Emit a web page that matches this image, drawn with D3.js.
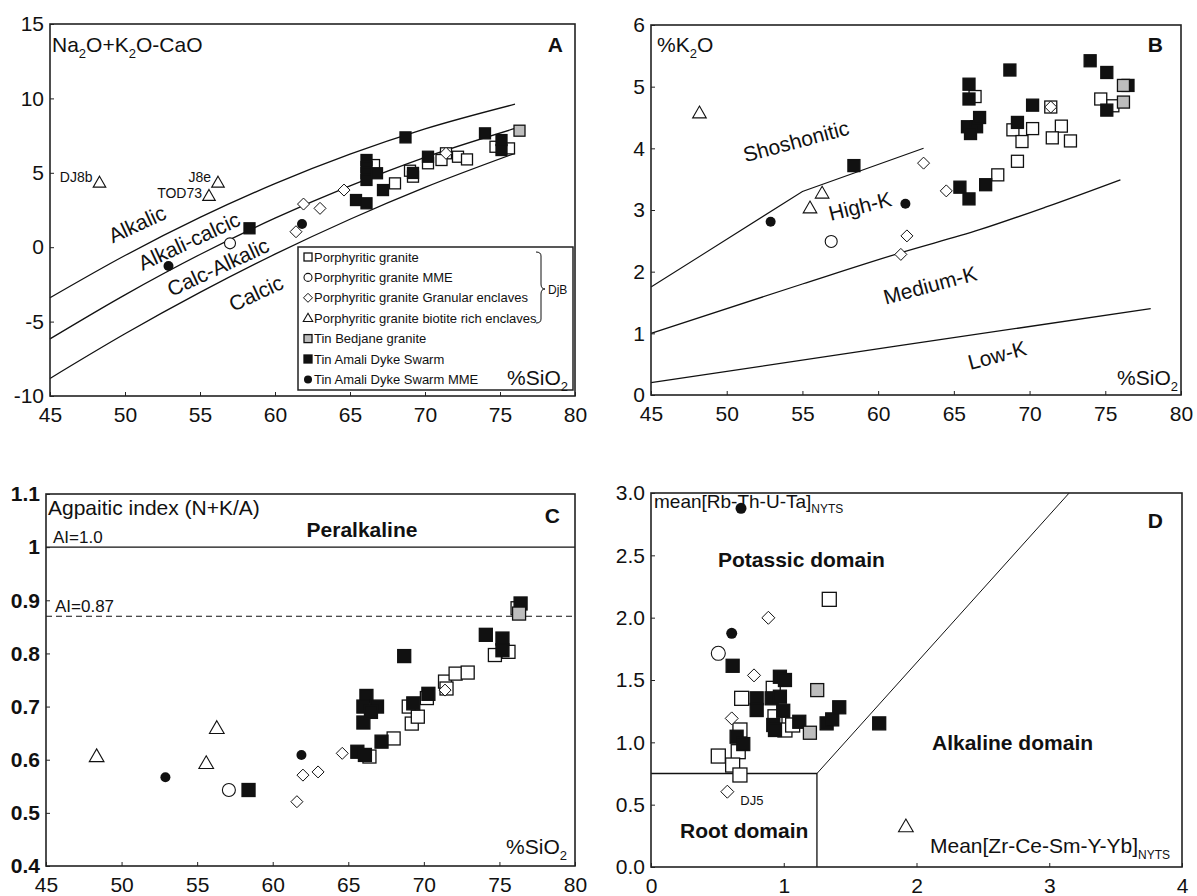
<!DOCTYPE html>
<html><head><meta charset="utf-8">
<script src="https://cdn.jsdelivr.net/npm/d3@7"></script>
<style>
body{margin:0;background:#fff}
text{font-family:"Liberation Sans",Arial,Helvetica,sans-serif;fill:#111}
</style>
</head><body>
<svg id="c" width="1197" height="896"></svg>
<script>
// ---------- DATA ----------
const sio2Ticks = [45,50,55,60,65,70,75,80];
const aYTicks = [-10,-5,0,5,10,15];
const bYTicks = [0,1,2,3,4,5,6];
const cYTicks = [0.4,0.5,0.6,0.7,0.8,0.9,1.0,1.1];
const dXTicks = [0,1,2,3,4];
const dYTicks = [0,0.5,1.0,1.5,2.0,2.5,3.0];

const legendLabels = ["Porphyritic granite","Porphyritic granite MME","Porphyritic granite Granular enclaves",
  "Porphyritic granite biotite rich enclaves","Tin Bedjane granite","Tin Amali Dyke Swarm","Tin Amali Dyke Swarm MME"];

// Panel A  (SiO2, Na2O+K2O-CaO)
const A_pg   = [[66.6,5.52],[68.0,4.29],[69.0,5.14],[69.2,4.74],[70.2,5.64],[71.4,6.31],[71.1,5.86],[72.2,6.08],[72.8,5.9],[74.7,6.75],[75.6,6.64]];
const A_mme  = [[57.0,0.26]];
const A_gran = [[61.4,1.04],[61.9,2.9],[63.0,2.61],[64.6,3.84],[71.4,6.31]];
const A_bio  = [[48.3,4.33],[55.6,3.44],[56.2,4.33]];
const A_bioLabels = ["DJ8b","TOD73","J8e"];
const A_tb   = [[76.3,7.83]];
const A_dyke = [[58.3,1.27],[65.4,3.17],[66.1,2.95],[66.1,5.86],[66.1,5.39],[66.1,4.99],[66.1,4.52],[66.8,4.97],[67.2,3.84],[68.7,7.38],[69.2,4.99],[70.2,6.08],[74.0,7.65],[75.1,7.2],[75.1,6.53]];
const A_dmme = [[52.9,-1.26],[61.8,1.56]];
const A_alkalic   = [[45,-3.40],[50,-0.56],[55,2.00],[60,4.27],[65,6.25],[70,7.95],[76,9.61]];
const A_alkCalcic = [[45,-6.16],[50,-3.20],[55,-0.49],[60,1.95],[65,4.12],[70,6.04],[76,7.98]];
const A_calcAlk   = [[45,-8.82],[50,-5.82],[55,-3.04],[60,-0.47],[65,1.88],[70,4.02],[76,6.31]];

// Panel B  (SiO2, K2O)
const B_pg   = [[66.4,4.84],[67.9,3.57],[69.2,3.79],[68.9,4.30],[69.5,4.11],[70.2,4.32],[71.4,4.67],[72.1,4.36],[71.5,4.17],[72.7,4.12],[74.7,4.80],[75.5,4.69]];
const B_mme  = [[56.9,2.49]];
const B_gran = [[61.5,2.28],[61.9,2.58],[63.0,3.76],[64.5,3.31],[71.4,4.67]];
const B_bio  = [[48.2,4.57],[55.5,3.03],[56.3,3.27]];
const B_tb   = [[76.2,5.02],[76.2,4.75]];
const B_dyke = [[58.4,3.72],[65.4,3.37],[66.0,3.18],[67.1,3.41],[66.0,5.04],[66.0,4.80],[65.9,4.35],[66.5,4.35],[66.7,4.50],[66.1,4.24],[68.7,5.27],[70.2,4.70],[69.2,4.42],[74.0,5.42],[75.1,5.23],[75.1,4.62],[76.5,5.02]];
const B_dmme = [[52.9,2.81],[61.8,3.10]];
const B_shosho = [[45,1.75],[55,3.3],[63,4.0]];
const B_highK  = [[45,1.0],[55,1.8],[61.4,2.3],[66.7,2.68],[71.1,3.05],[76,3.49]];
const B_lowK   = [[45,0.2],[61.4,0.8],[78,1.4]];

// Panel C  (SiO2, agpaitic index)
const C_pg   = [[66.4,0.606],[68.0,0.640],[69.0,0.700],[69.2,0.668],[69.6,0.681],[70.2,0.716],[71.4,0.747],[71.5,0.734],[72.1,0.762],[72.9,0.764],[74.7,0.797],[75.6,0.803],[76.2,0.885]];
const C_mme  = [[57.1,0.543]];
const C_gran = [[61.6,0.521],[62.0,0.571],[63.0,0.577],[64.6,0.612],[71.4,0.731]];
const C_bio  = [[48.35,0.606],[55.6,0.593],[56.3,0.659]];
const C_tb   = [[76.3,0.875]];
const C_dyke = [[58.4,0.543],[65.6,0.615],[66.1,0.609],[66.2,0.72],[66.0,0.70],[66.9,0.70],[66.0,0.67],[66.5,0.69],[67.2,0.634],[68.7,0.795],[69.3,0.706],[70.3,0.724],[74.1,0.835],[75.2,0.828],[75.2,0.806],[76.4,0.894]];
const C_dmme = [[52.9,0.567],[61.9,0.609]];
const C_levels = [1.0, 0.87];

// Panel D  (mean Zr-Ce-Sm-Y-Yb, mean Rb-Th-U-Ta)
const D_pg   = [[1.343,2.147],[0.683,1.353],[0.921,1.433],[0.934,1.205],[1.009,1.099],[1.067,1.139],[0.670,1.099],[0.657,0.925],[0.507,0.890],[0.615,0.818],[0.670,0.738]];
const D_mme  = [[0.507,1.714]];
const D_gran = [[0.884,1.999],[0.776,1.537],[0.608,1.192],[0.575,0.604]];
const D_bio  = [[1.920,0.323]];
const D_tb   = [[1.252,1.419],[1.197,1.077]];
const D_dyke = [[0.615,1.614],[0.796,1.353],[0.796,1.259],[0.909,1.353],[0.971,1.366],[0.971,1.526],[1.009,1.500],[0.996,1.253],[0.921,1.139],[0.934,1.099],[1.117,1.165],[1.323,1.152],[1.365,1.184],[1.418,1.281],[1.719,1.152],[0.645,1.045],[0.695,0.986]];
const D_dmme = [[0.678,2.877],[0.608,1.874]];
const D_root = [[0,0.75],[1.25,0.75],[1.25,0]];
const D_alk  = [[1.25,0.75],[3.15,3.0]];

// ---------- DRAWING ----------
const svg = d3.select('#c');
const INK = '#111';

function marker(g, type, cx, cy, s) {
  const h = s/2;
  if (type==='osq'||type==='fsq'||type==='gsq') {
    g.append('rect').attr('x',cx-h).attr('y',cy-h).attr('width',s).attr('height',s)
      .attr('fill', type==='osq'?'#fff':type==='fsq'?INK:'#bdbdbd')
      .attr('stroke',INK).attr('stroke-width',1.3);
  } else if (type==='ocir') {
    g.append('circle').attr('cx',cx).attr('cy',cy).attr('r',h).attr('fill','#fff').attr('stroke',INK).attr('stroke-width',1.1);
  } else if (type==='fcir') {
    g.append('circle').attr('cx',cx).attr('cy',cy).attr('r',h).attr('fill',INK);
  } else if (type==='dia') {
    const r = h;
    g.append('path').attr('d',`M${cx},${cy-r}L${cx+r},${cy}L${cx},${cy+r}L${cx-r},${cy}Z`)
      .attr('fill','#fff').attr('stroke',INK).attr('stroke-width',1);
  } else if (type==='tri') {
    const t = s*1.05;
    const hh = t*0.866;
    g.append('path').attr('d',`M${cx},${cy-hh*0.6}L${cx+t/2},${cy+hh*0.4}L${cx-t/2},${cy+hh*0.4}Z`)
      .attr('fill','#fff').attr('stroke',INK).attr('stroke-width',1.1);
  }
}

function frameAxes(g, x, y, xt, yt, xfmt, yfmt, yBold) {
  const [x0,x1] = x.range(), [y0,y1] = y.range();
  const ax = g.append('g').attr('transform',`translate(0,${y0})`)
    .call(d3.axisBottom(x).tickValues(xt).tickFormat(xfmt).tickSize(-4).tickPadding(11));
  ax.select('.domain').remove();
  ax.selectAll('line').attr('stroke','#222');
  ax.selectAll('text').attr('font-size',21).attr('fill',INK)
    .attr('font-family','"Liberation Sans",Arial,sans-serif');
  const ay = g.append('g').attr('transform',`translate(${x0},0)`)
    .call(d3.axisLeft(y).tickValues(yt).tickFormat(yfmt).tickSize(-4).tickPadding(6));
  ay.select('.domain').remove();
  ay.selectAll('line').attr('stroke','#222');
  ay.selectAll('text').attr('font-size',21).attr('fill',INK)
    .attr('font-weight', yBold?'bold':'normal')
    .attr('font-family','"Liberation Sans",Arial,sans-serif');
  g.append('rect').attr('x',x0).attr('y',y1).attr('width',x1-x0).attr('height',y0-y1)
    .attr('fill','none').attr('stroke','#222').attr('stroke-width',1.6);
}

function richText(g, x, y, parts, size, opts={}) {
  const t = g.append('text').attr('x',x).attr('y',y).attr('font-size',size)
    .attr('text-anchor',opts.anchor||'start').attr('font-weight',opts.weight||'normal');
  let shifted = false;
  parts.forEach(p => {
    const sub = Array.isArray(p);
    const str = sub ? p[0] : p;
    const ts = t.append('tspan').text(str);
    if (sub) { ts.attr('font-size', opts.subSize || size*0.62).attr('dy', shifted?0:size*0.28); shifted = true; }
    else if (shifted) { ts.attr('dy', -size*0.28); shifted = false; }
  });
  return t;
}

function rotLabel(g, cx, cy, str, ang, size, weight) {
  g.append('text').attr('transform',`translate(${cx},${cy}) rotate(${ang})`)
    .attr('text-anchor','middle').attr('dominant-baseline','central')
    .attr('font-size',size).attr('font-weight',weight||'normal').text(str);
}

function line(g, x, y, pts, opts={}) {
  g.append('path').datum(pts)
    .attr('d', d3.line().x(d=>x(d[0])).y(d=>y(d[1])).curve(opts.curve||d3.curveLinear))
    .attr('fill','none').attr('stroke',INK).attr('stroke-width',opts.w||1.3)
    .attr('stroke-dasharray',opts.dash||null);
}

function drawSeries(g, x, y, sets, sz) {
  const order = [['pg','osq'],['gran','dia'],['bio','tri'],['mme','ocir'],['dyke','fsq'],['tb','gsq'],['dmme','fcir']];
  order.forEach(([k,t]) => {
    (sets[k]||[]).forEach(d => marker(g, t, x(d[0]), y(d[1]), sz[t]));
  });
}

const intFmt = d => String(d);

// ===== Panel A =====
{
  const g = svg.append('g');
  const x = d3.scaleLinear().domain([45,80]).range([50,575]);
  const y = d3.scaleLinear().domain([-10,15]).range([396,24]);
  line(g,x,y,A_alkalic,{curve:d3.curveMonotoneX});
  line(g,x,y,A_alkCalcic,{curve:d3.curveMonotoneX});
  line(g,x,y,A_calcAlk,{curve:d3.curveMonotoneX});
  rotLabel(g,137,224,'Alkalic',-25,21);
  rotLabel(g,189,241,'Alkali-calcic',-25,21);
  rotLabel(g,218,267,'Calc-Alkalic',-25,21);
  rotLabel(g,256,293,'Calcic',-25,21);
  richText(g,52,52,['Na',['2'],'O+K',['2'],'O-CaO'],21);
  g.append('text').attr('x',563).attr('y',52).attr('text-anchor','end').attr('font-size',21).attr('font-weight','bold').text('A');
  const sz = {osq:11,fsq:11,gsq:11,ocir:11,fcir:10,dia:12,tri:12};
  drawSeries(g,x,y,{pg:A_pg,mme:A_mme,gran:A_gran,bio:A_bio,tb:A_tb,dyke:A_dyke,dmme:A_dmme},sz);
  A_bio.forEach((d,i)=>{
    g.append('text').attr('x',x(d[0])-7).attr('y',y(d[1])-1 + (i===1?3:0)).attr('text-anchor','end')
      .attr('font-size',14).text(A_bioLabels[i]);
  });
  // legend
  const lg = g.append('g');
  lg.append('rect').attr('x',298).attr('y',247).attr('width',275).attr('height',143)
    .attr('fill','#fff').attr('stroke','#222').attr('stroke-width',1.5);
  const ltypes = ['osq','ocir','dia','tri','gsq','fsq','fcir'];
  const lsz = {osq:8,ocir:8,dia:9,tri:9,gsq:8,fsq:8,fcir:8};
  legendLabels.forEach((lab,i)=>{
    const cy = 257 + i*20.4;
    marker(lg, ltypes[i], 308, cy, lsz[ltypes[i]]);
    lg.append('text').attr('x',314).attr('y',cy).attr('dominant-baseline','central').attr('font-size',13).text(lab);
  });
  lg.append('path').attr('d','M536,252 Q541,252 541,256 L541,284 Q541,289 545,289 Q541,289 541,294 L541,319 Q541,323 536,323')
    .attr('fill','none').attr('stroke',INK).attr('stroke-width',1);
  lg.append('text').attr('x',548).attr('y',290).attr('dominant-baseline','central').attr('font-size',12).text('DjB');
  richText(g,568,385,['%SiO',['2']],21,{anchor:'end'});
  frameAxes(g,x,y,sio2Ticks,aYTicks,intFmt,intFmt,false);
}

// ===== Panel B =====
{
  const g = svg.append('g');
  const x = d3.scaleLinear().domain([45,80]).range([651,1181]);
  const y = d3.scaleLinear().domain([0,6]).range([395,25]);
  line(g,x,y,B_shosho,{w:1.1});
  line(g,x,y,B_highK,{curve:d3.curveMonotoneX});
  line(g,x,y,B_lowK,{curve:d3.curveMonotoneX});
  rotLabel(g,796,141,'Shoshonitic',-15,21);
  rotLabel(g,860,206,'High-K',-14,21);
  rotLabel(g,930,285,'Medium-K',-15,21);
  rotLabel(g,997,355,'Low-K',-15,21);
  richText(g,657,52,['%K',['2'],'O'],21);
  g.append('text').attr('x',1163).attr('y',52).attr('text-anchor','end').attr('font-size',21).attr('font-weight','bold').text('B');
  richText(g,1178,385,['%SiO',['2']],21,{anchor:'end'});
  const sz = {osq:12,fsq:12,gsq:12,ocir:12,fcir:10,dia:12,tri:13};
  drawSeries(g,x,y,{pg:B_pg,mme:B_mme,gran:B_gran,bio:B_bio,tb:B_tb,dyke:B_dyke,dmme:B_dmme},sz);
  frameAxes(g,x,y,sio2Ticks,bYTicks,intFmt,intFmt,false);
}

// ===== Panel C =====
{
  const g = svg.append('g');
  const x = d3.scaleLinear().domain([45,80]).range([46,575]);
  const y = d3.scaleLinear().domain([0.4,1.1]).range([866,494]);
  line(g,x,y,[[45,C_levels[0]],[80,C_levels[0]]],{w:1.3});
  line(g,x,y,[[45,C_levels[1]],[80,C_levels[1]]],{w:1.2,dash:'6,4'});
  richText(g,48,515,['Agpaitic index (N+K/A)'],21);
  g.append('text').attr('x',53).attr('y',y(C_levels[0])-4).attr('font-size',17).text('AI=1.0');
  g.append('text').attr('x',55).attr('y',y(C_levels[1])-4).attr('font-size',17).text('AI=0.87');
  g.append('text').attr('x',362).attr('y',537).attr('text-anchor','middle').attr('font-size',21).attr('font-weight','bold').text('Peralkaline');
  g.append('text').attr('x',560).attr('y',523).attr('text-anchor','end').attr('font-size',21).attr('font-weight','bold').text('C');
  richText(g,567,854,['%SiO',['2']],21,{anchor:'end'});
  const sz = {osq:13,fsq:13,gsq:13,ocir:13,fcir:10,dia:12,tri:14};
  drawSeries(g,x,y,{pg:C_pg,mme:C_mme,gran:C_gran,bio:C_bio,tb:C_tb,dyke:C_dyke,dmme:C_dmme},sz);
  frameAxes(g,x,y,sio2Ticks,cYTicks,intFmt,d=>d===1?'1':d3.format('.1f')(d),true);
}

// ===== Panel D =====
{
  const g = svg.append('g');
  const x = d3.scaleLinear().domain([0,4]).range([651,1182]);
  const y = d3.scaleLinear().domain([0,3]).range([867,493]);
  line(g,x,y,D_root,{w:1.3});
  line(g,x,y,D_alk,{w:1});
  richText(g,654,508,['mean[Rb-Th-U-Ta]',['NYTS']],19,{subSize:12});
  g.append('text').attr('x',718).attr('y',567).attr('font-size',21).attr('font-weight','bold').text('Potassic domain');
  g.append('text').attr('x',932).attr('y',750).attr('font-size',21).attr('font-weight','bold').text('Alkaline domain');
  g.append('text').attr('x',680).attr('y',838).attr('font-size',21).attr('font-weight','bold').text('Root domain');
  g.append('text').attr('x',1163).attr('y',528).attr('text-anchor','end').attr('font-size',21).attr('font-weight','bold').text('D');
  richText(g,930,853,['Mean[Zr-Ce-Sm-Y-Yb]',['NYTS']],21,{subSize:12});
  const sz = {osq:14,fsq:13,gsq:13,ocir:14,fcir:11,dia:13,tri:14};
  drawSeries(g,x,y,{pg:D_pg,mme:D_mme,gran:D_gran,bio:D_bio,tb:D_tb,dyke:D_dyke,dmme:D_dmme},sz);
  const dj5 = D_gran[3];
  g.append('text').attr('x',x(dj5[0])+13).attr('y',y(dj5[1])+13).attr('font-size',13).text('DJ5');
  frameAxes(g,x,y,dXTicks,dYTicks,intFmt,d3.format('.1f'),false);
}
</script>
</body></html>
